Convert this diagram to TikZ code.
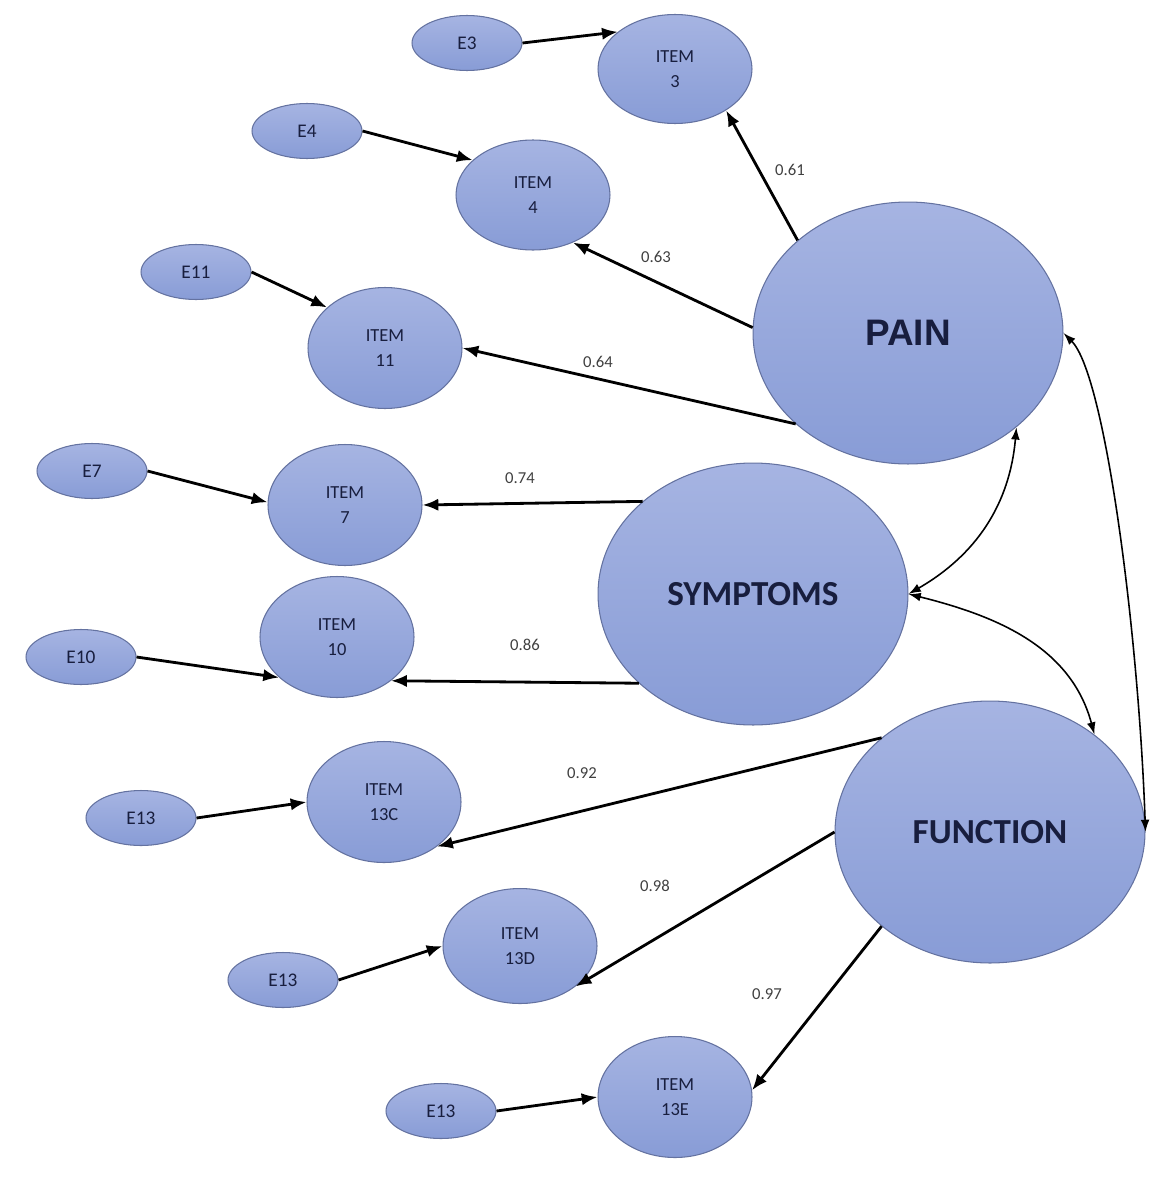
\documentclass[tikz,border=0pt]{standalone}
\usepackage{fontspec}
\setmainfont{Carlito}
\newfontfamily\arialfont{Liberation Sans}
\usepackage{tikz}
\usepackage{xcolor}
\usetikzlibrary{shapes.geometric, arrows.meta, positioning}

\definecolor{nodetop}{RGB}{166,180,226}
\definecolor{nodebot}{RGB}{136,156,214}
\definecolor{nodeline}{RGB}{100,114,160}
\definecolor{nodetext}{RGB}{24,30,62}

\tikzset{
  latent/.style={ellipse, draw=nodeline, line width=0.6pt, top color=nodetop, bottom color=nodebot,
    minimum width=6.2cm, minimum height=5.24cm, inner sep=0pt, text=nodetext,
    font=\fontsize{20}{24}\selectfont\bfseries},
  item/.style={ellipse, draw=nodeline, line width=0.6pt, top color=nodetop, bottom color=nodebot,
    minimum width=3.08cm, minimum height=2.42cm, inner sep=0pt, text=nodetext, align=center,
    font=\fontsize{10.5}{14}\selectfont},
  error/.style={ellipse, draw=nodeline, line width=0.6pt, top color=nodetop, bottom color=nodebot,
    minimum width=2.2cm, minimum height=1.1cm, inner sep=0pt, text=nodetext,
    font=\fontsize{11}{13}\selectfont},
  load/.style={line width=1.6pt, -{Latex[length=9pt,width=7pt]}},
  corr/.style={line width=0.9pt, {Latex[length=7pt,width=5pt]}-{Latex[length=7pt,width=5pt]}},
  coef/.style={font=\fontsize{9.5}{11}\selectfont, text=black!75}
}

\begin{document}
\begin{tikzpicture}[x=0.02cm, y=-0.02cm]
\useasboundingbox (0,0) rectangle (1161,1200);

% Latent factors
\node[latent, font=\arialfont\fontsize{21}{24}\selectfont\bfseries] (pain) at (908,333) {PAIN};
\node[latent] (sym) at (753,594) {SYMPTOMS};
\node[latent] (func) at (990,832) {FUNCTION};

% Pain items
\node[item, minimum height=2.18cm] (item3) at (675,69) {ITEM\\3};
\node[item, minimum height=2.2cm] (item4) at (533,195) {ITEM\\4};
\node[item] (item11) at (385,348) {ITEM\\11};

% Symptom items
\node[item] (item7) at (345,505) {ITEM\\7};
\node[item] (item10) at (337,637) {ITEM\\10};

% Function items
\node[item] (item13c) at (384,802) {ITEM\\13C};
\node[item, minimum height=2.3cm] (item13d) at (520,946) {ITEM\\13D};
\node[item] (item13e) at (675,1097) {ITEM\\13E};

% Error terms
\node[error] (e3) at (467,43) {E3};
\node[error] (e4) at (307,131) {E4};
\node[error] (e11) at (196,272) {E11};
\node[error] (e7) at (92,471) {E7};
\node[error] (e10) at (81,657) {E10};
\node[error] (e13c) at (141,818) {E13};
\node[error] (e13d) at (283,980) {E13};
\node[error] (e13e) at (441,1111) {E13};

% Loadings
\draw[load] (pain.140) -- (item3.-39);
\draw[load] (pain.178) -- (item4.-50);
\draw[load] (pain.219) -- (item11.east);
\draw[load] (sym.140) -- (item7.east);
\draw[load] (sym.218) -- (item10.-39);
\draw[load] (func.139) -- (item13c.-40);
\draw[load] (func.180) -- (item13d.-36);
\draw[load] (func.221) -- (item13e.5);

% Error paths
\draw[load] (e3.east) -- (item3.147);
\draw[load] (e4.east) -- (item4.150);
\draw[load] (e11.east) -- (item11.145);
\draw[load] (e7.east) -- (item7.178);
\draw[load] (e10.east) -- (item10.215);
\draw[load] (e13c.east) -- (item13c.west);
\draw[load] (e13d.east) -- (item13d.west);
\draw[load] (e13e.east) -- (item13e.west);

% Correlations between factors
\draw[corr] (pain.-41) to[out=-95, in=30] (sym.east);
\draw[corr] (sym.east) to[out=-14, in=105] (func.43);
\draw[corr] (pain.east) to[out=-45, in=92, out looseness=0.3, in looseness=1] (func.east);

% Coefficients
\node[coef] (c3) at (790,170) {0.61};
\node[coef] (c4) at (656,257) {0.63};
\node[coef] (c11) at (598,362) {0.64};
\node[coef] (c7) at (520,478) {0.74};
\node[coef] (c10) at (525,645) {0.86};
\node[coef] (c13c) at (582,773) {0.92};
\node[coef] (c13d) at (655,886) {0.98};
\node[coef] (c13e) at (767,994) {0.97};
\end{tikzpicture}
\end{document}
